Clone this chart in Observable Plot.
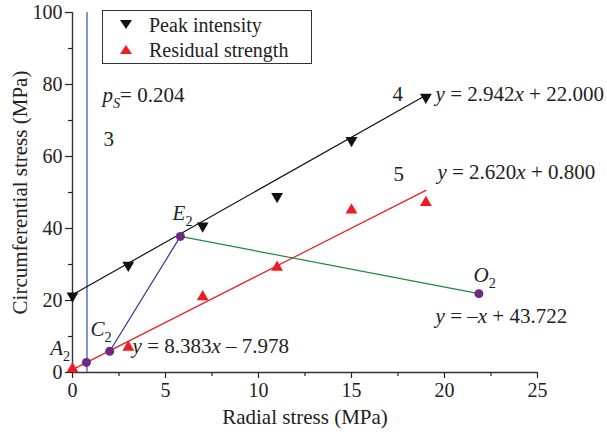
<!DOCTYPE html>
<html>
<head>
<meta charset="utf-8">
<script src="https://cdn.jsdelivr.net/npm/d3@7"></script>
<script src="https://cdn.jsdelivr.net/npm/@observablehq/plot@0.6"></script>
<style>
  html, body { margin: 0; padding: 0; background: #fff; }
  #wrap { position: relative; width: 607px; height: 440px; font-family: "Liberation Serif", "Times New Roman", serif; }
  #legend { position: absolute; left: 102px; top: 10px; width: 210px; height: 54px; border: 1px solid #333; background: #fff; box-sizing: border-box; }
  .li { position: absolute; left: 0; height: 26px; display: flex; align-items: center; font-size: 20px; color: #222; white-space: nowrap; }
  .li svg { margin-left: 17px; margin-right: 17px; }
</style>
</head>
<body>
<div id="wrap"></div>
<script>
// ---- data ----
const radialX = [0, 3, 7, 11, 15, 19];
const peakY = [21.3, 29.8, 40.7, 48.9, 64.5, 76.5];
const residualY = [1.0, 7.0, 21.0, 29.2, 45.1, 47.2];

// fitted lines (endpoints)
const peakFitX = [0, 19];
const peakFitY = [21.6, 77.0];
const resFitX = [0, 19];
const resFitY = [0.8, 50.6];

// key points
const keyNames = ["A2", "C2", "E2", "O2"];
const keyX = [0.75, 2.0, 5.8, 21.85];
const keyY = [2.8, 5.9, 37.8, 21.9];

const psX = 0.78;

// annotations (data units, markup: *italic*, _sub_, ^italic sub^)
const noteText = ["*E*_2_", "*C*_2_", "*A*_2_", "*O*_2_",
  "*y* = 2.942*x* + 22.000", "*y* = 2.620*x* + 0.800", "*y* = 8.383*x* – 7.978", "*y* = –*x* + 43.722",
  "*p*^S^= 0.204", "3", "4", "5"];
const noteX = [5.38, 0.97, -1.2, 21.56, 19.52, 19.62, 3.23, 19.52, 1.61, 1.67, 17.2, 17.26];
const noteY = [44.3, 11.9, 6.6, 26.9, 77.3, 55.7, 7.4, 15.6, 77.0, 64.8, 77.3, 55.1];

const xTicks = [0, 5, 10, 15, 20, 25];
const xMinor = [2.5, 7.5, 12.5, 17.5, 22.5];
const yTicks = [0, 20, 40, 60, 80, 100];
const yMinor = [10, 30, 50, 70, 90];

const legendLabels = ["Peak intensity", "Residual strength"];
// ---- build ----
const FONT = '"Liberation Serif", "Times New Roman", serif';
const peak = radialX.map((x, i) => ({x, y: peakY[i]}));
const resid = radialX.map((x, i) => ({x, y: residualY[i]}));
const peakFit = peakFitX.map((x, i) => ({x, y: peakFitY[i]}));
const resFit = resFitX.map((x, i) => ({x, y: resFitY[i]}));
const keys = keyNames.map((n, i) => ({n, x: keyX[i], y: keyY[i]}));
const notes = noteText.map((t, i) => ({t, x: noteX[i], y: noteY[i]}));
const kp = Object.fromEntries(keys.map(k => [k.n, k]));

const chart = Plot.plot({
  width: 607,
  height: 440,
  marginLeft: 72,
  marginRight: 70,
  marginTop: 12,
  marginBottom: 68,
  style: {fontFamily: FONT, fontSize: "20px", color: "#222", background: "#fff", overflow: "visible"},
  x: {domain: [0, 25], label: null},
  y: {domain: [0, 100], label: null},
  marks: [
    Plot.axisX(xTicks, {tickSize: 6, tickPadding: 4, label: null, strokeWidth: 1.2, fontFamily: FONT, fontSize: 20}),
    Plot.axisX(xMinor, {tickSize: 4, tickFormat: () => "", label: null, strokeWidth: 1.2}),
    Plot.axisY(yTicks, {tickSize: 7, tickPadding: 3, label: null, strokeWidth: 1.2, fontFamily: FONT, fontSize: 20}),
    Plot.axisY(yMinor, {tickSize: 4, tickFormat: () => "", label: null, strokeWidth: 1.2}),
    Plot.ruleX([0], {stroke: "#333", strokeWidth: 1.4}),
    Plot.ruleY([0], {stroke: "#333", strokeWidth: 1.4}),
    Plot.ruleX([psX], {y1: 0, y2: 100, stroke: "#4a6bc2", strokeWidth: 1.4}),
    Plot.line(peakFit, {x: "x", y: "y", stroke: "#111", strokeWidth: 1.2}),
    Plot.line(resFit, {x: "x", y: "y", stroke: "#ee1c25", strokeWidth: 1.2}),
    Plot.line([kp.C2, kp.E2], {x: "x", y: "y", stroke: "#2b3494", strokeWidth: 1.2}),
    Plot.line([kp.E2, kp.O2], {x: "x", y: "y", stroke: "#1b8a3c", strokeWidth: 1.2}),
    Plot.dot(peak, {x: "x", y: "y", symbol: "triangle", rotate: 180, r: 4.4, fill: "#111", stroke: "none"}),
    Plot.dot(resid, {x: "x", y: "y", symbol: "triangle", r: 4.4, fill: "#ee1c25", stroke: "none"}),
    Plot.dot(keys, {x: "x", y: "y", r: 4.5, fill: "#6a2a86", stroke: "none"}),
    Plot.text(notes, {x: "x", y: "y", text: "t", textAnchor: "start", lineAnchor: "middle", fontSize: 21, fill: "#222", fontFamily: FONT}),
    Plot.text(["Radial stress (MPa)"], {frameAnchor: "bottom", textAnchor: "middle", dy: 51, fontSize: 21, fill: "#222", fontFamily: FONT}),
    Plot.text(["Circumferential stress (MPa)"], {frameAnchor: "left", textAnchor: "middle", dx: -52, rotate: -90, fontSize: 21, fill: "#222", fontFamily: FONT})
  ]
});

// rich-text post-processing
const NS = "http://www.w3.org/2000/svg";
chart.querySelectorAll("text").forEach(el => {
  const s = el.textContent;
  if (!/[*_^]/.test(s)) return;
  const parts = s.split(/(\*[^*]+\*|_[^_]+_|\^[^^]+\^)/).filter(p => p !== "");
  el.textContent = "";
  let shifted = false;
  for (const p of parts) {
    const ts = document.createElementNS(NS, "tspan");
    let txt = p;
    if (p.startsWith("*")) { txt = p.slice(1, -1); ts.setAttribute("font-style", "italic"); }
    if (p.startsWith("_") || p.startsWith("^")) {
      txt = p.slice(1, -1);
      ts.setAttribute("font-size", "0.68em");
      ts.setAttribute("dy", "0.42em");
      if (p.startsWith("^")) ts.setAttribute("font-style", "italic");
      shifted = true;
    } else if (shifted) {
      ts.setAttribute("dy", "-0.29em");
      shifted = false;
    }
    ts.textContent = txt;
    el.appendChild(ts);
  }
});

const wrap = document.getElementById("wrap");
wrap.appendChild(chart);

// legend
const legend = document.createElement("div");
legend.id = "legend";
const syms = [
  {fill: "#111", pts: "0,0 12,0 6,9"},
  {fill: "#ee1c25", pts: "0,9 12,9 6,0"}
];
legendLabels.forEach((lab, i) => {
  const row = document.createElement("div");
  row.className = "li";
  row.style.top = (i === 0 ? 1 : 26) + "px";
  row.innerHTML = `<svg width="12" height="10"><polygon points="${syms[i].pts}" fill="${syms[i].fill}"/></svg><span>${lab}</span>`;
  legend.appendChild(row);
});
wrap.appendChild(legend);
</script>
</body>
</html>
